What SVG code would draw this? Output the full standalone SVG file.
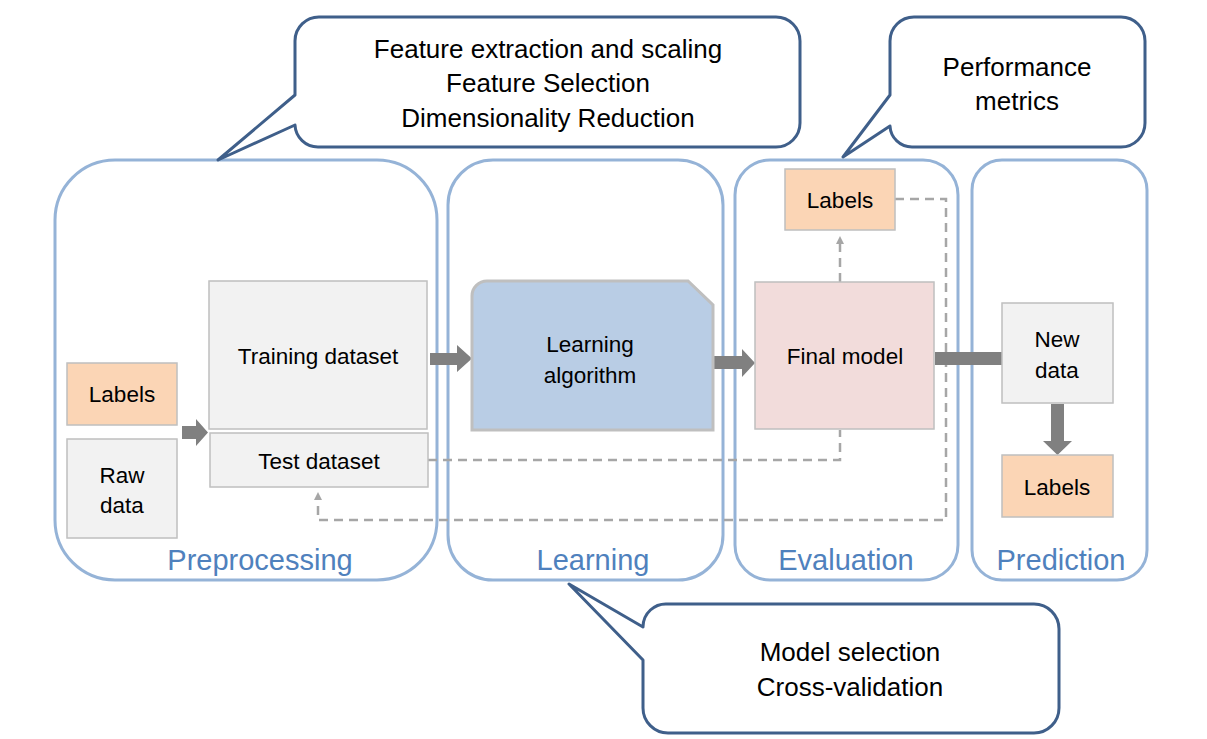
<svg xmlns="http://www.w3.org/2000/svg" width="1207" height="739" viewBox="0 0 1207 739">
<style>
.stage{fill:#fff;stroke:#95B3D7;stroke-width:3}
.stxt{font-family:"Liberation Sans",Arial,sans-serif;font-size:29px;fill:#4F81BD;text-anchor:middle}
.call{fill:#fff;stroke:#3F5F8A;stroke-width:3;stroke-linejoin:round}
.ctxt{font-family:"Liberation Sans",Arial,sans-serif;font-size:26px;fill:#000;text-anchor:middle}
.gray{fill:#F2F2F2;stroke:#BFBFBF;stroke-width:1.5}
.lab{fill:#FBD5B5;stroke:#BFBFBF;stroke-width:1.5}
.txt{font-family:"Liberation Sans",Arial,sans-serif;font-size:22.5px;fill:#000;text-anchor:middle}
.big{fill:#808080}
.dash{fill:none;stroke:#A6A6A6;stroke-width:2.5;stroke-dasharray:9 6}
</style>
<defs>
<marker id="dh" markerWidth="8" markerHeight="8" refX="4" refY="4" orient="auto" markerUnits="userSpaceOnUse" viewBox="0 0 8 8">
<path d="M0,0 L8,4 L0,8 Z" fill="#A6A6A6"/>
</marker>
</defs>
<rect width="1207" height="739" fill="#fff"/>

<g id="stage-preprocessing">
<rect class="stage" x="55" y="160" width="382" height="420" rx="60"/>
<text class="stxt" x="260" y="570">Preprocessing</text>
</g>
<g id="stage-learning">
<rect class="stage" x="448" y="160" width="275" height="420" rx="45"/>
<text class="stxt" x="593" y="570">Learning</text>
</g>
<g id="stage-evaluation">
<rect class="stage" x="735" y="160" width="223" height="420" rx="35"/>
<text class="stxt" x="846" y="570">Evaluation</text>
</g>
<g id="stage-prediction">
<rect class="stage" x="972" y="160" width="175" height="420" rx="30"/>
<text class="stxt" x="1061" y="570">Prediction</text>
</g>

<g id="callout-preprocessing">
<path class="call" d="M320 17 H776 A24 24 0 0 1 800 41 V123 A24 24 0 0 1 776 147 H318 A23 23 0 0 1 295 125 L218 160 L295 95 V41 A24 24 0 0 1 320 17 Z"/>
<text class="ctxt" x="548" y="58">Feature extraction and scaling</text>
<text class="ctxt" x="548" y="92">Feature Selection</text>
<text class="ctxt" x="548" y="127">Dimensionality Reduction</text>
</g>
<g id="callout-evaluation">
<path class="call" d="M914 17 H1121 A24 24 0 0 1 1145 41 V123 A24 24 0 0 1 1121 147 H912 A22 22 0 0 1 890 126 L843 157 L890 95 V41 A24 24 0 0 1 914 17 Z"/>
<text class="ctxt" x="1017" y="76">Performance</text>
<text class="ctxt" x="1017" y="110">metrics</text>
</g>
<g id="callout-learning">
<path class="call" d="M668 604 H1034 A25 25 0 0 1 1059 629 V708 A25 25 0 0 1 1034 733 H668 A25 25 0 0 1 643 708 V660 L569 584 L643 627 A23 23 0 0 1 668 604 Z"/>
<text class="ctxt" x="850" y="661">Model selection</text>
<text class="ctxt" x="850" y="696">Cross-validation</text>
</g>

<g id="connectors">
<path class="dash" d="M428 460 H840 V430"/>
<path class="dash" d="M840 282 V240" marker-end="url(#dh)"/>
<path class="dash" d="M895 199 H946 V520 H318 V496" marker-end="url(#dh)"/>
<polygon class="big" points="182,426 196,426 196,419 208,432.5 196,446 196,439 182,439"/>
<polygon class="big" points="430,353 457,353 457,345 472,358.5 457,372 457,365 430,365"/>
<polygon class="big" points="714,356 742,356 742,349 755,363 742,377 742,369 714,369"/>
<rect class="big" x="935" y="352" width="67" height="13"/>
<polygon class="big" points="1051,404 1064,404 1064,441 1072,441 1057.5,455 1043,441 1051,441"/>
</g>

<g id="labels-input">
<rect class="lab" x="67" y="363" width="110" height="62"/>
<text class="txt" x="122" y="402">Labels</text>
</g>
<g id="raw-data">
<rect class="gray" x="67" y="439" width="110" height="99"/>
<text class="txt" x="122" y="483">Raw</text>
<text class="txt" x="122" y="513">data</text>
</g>
<g id="training-dataset">
<rect class="gray" x="209" y="281" width="218" height="148"/>
<text class="txt" x="318" y="364">Training dataset</text>
</g>
<g id="test-dataset">
<rect class="gray" x="210" y="433" width="218" height="54"/>
<text class="txt" x="319" y="469">Test dataset</text>
</g>
<g id="learning-algorithm">
<path d="M487 281 H688 L713 305 V430 H472 V296 A15 15 0 0 1 487 281 Z" fill="#B9CDE5" stroke="#BFBFBF" stroke-width="3"/>
<text class="txt" x="590" y="352">Learning</text>
<text class="txt" x="590" y="383">algorithm</text>
</g>
<g id="final-model">
<rect x="755" y="282" width="179" height="147" fill="#F2DCDB" stroke="#BFBFBF" stroke-width="1.5"/>
<text class="txt" x="845" y="364">Final model</text>
</g>
<g id="labels-eval">
<rect class="lab" x="785" y="169" width="110" height="61"/>
<text class="txt" x="840" y="208">Labels</text>
</g>
<g id="new-data">
<rect class="gray" x="1002" y="303" width="111" height="100"/>
<text class="txt" x="1057" y="347">New</text>
<text class="txt" x="1057" y="378">data</text>
</g>
<g id="labels-pred">
<rect class="lab" x="1002" y="455" width="111" height="62"/>
<text class="txt" x="1057" y="495">Labels</text>
</g>
</svg>
